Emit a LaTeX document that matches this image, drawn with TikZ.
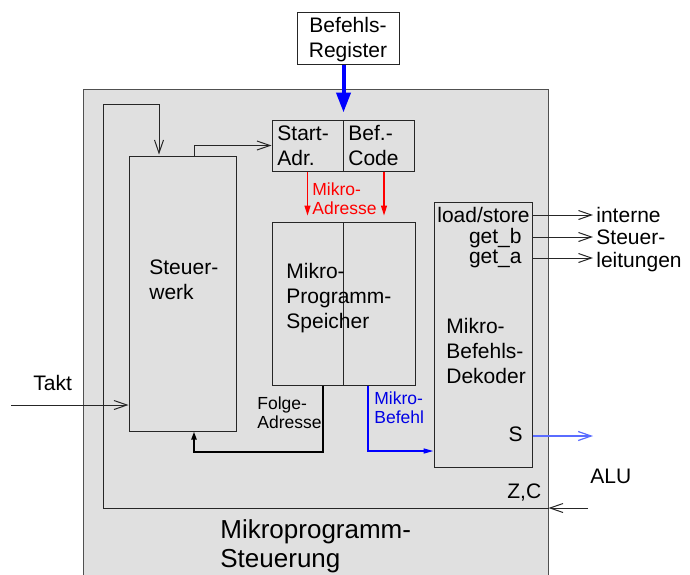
\documentclass[tikz,border=0pt]{standalone}
\usepackage{fontspec}
\setmainfont{Liberation Sans}
\usetikzlibrary{arrows.meta,calc}
\definecolor{bgray}{HTML}{E0E0E0}
\definecolor{edgegray}{HTML}{505050}
\definecolor{sblue}{HTML}{5A6CFF}
\newcommand{\mainf}{\fontsize{10.5}{12.5}\selectfont}
\newcommand{\smallf}{\fontsize{8.75}{9.5}\selectfont}
\newcommand{\bigf}{\fontsize{13}{14.5}\selectfont}
\newcommand{\lns}[1]{\begin{tabular}[t]{@{}l@{}}#1\end{tabular}}
\newcommand{\clns}[1]{\begin{tabular}[t]{@{}c@{}}#1\end{tabular}}
\begin{document}
\begin{tikzpicture}[x=0.5pt,y=-0.5pt,
  box/.style={draw=black!85, fill=bgray, line width=0.5pt, inner sep=0pt, anchor=center},
  txt/.style={inner sep=0pt, anchor=base west, font=\mainf},
  stxt/.style={inner sep=0pt, anchor=base west, font=\smallf},
  wire/.style={line width=0.5pt, draw=black!85},
  openarr/.style={-{Straight Barb[length=6.5pt,width=4.5pt]}},
]
\useasboundingbox (0,0) rectangle (690,574);
% outer box
\node[box, draw=edgegray, minimum width=232.5pt, minimum height=245.5pt] (outer) at (315.5,334.5) {};
% Befehls-Register
\node[box, fill=white, minimum width=51pt, minimum height=26pt] (br) at (348,38) {};
\node[txt, anchor=base] (brtxt) at (348,32) {\clns{Befehls-\\Register}};
% Start-Adr / Bef.-Code
\node[box, minimum width=35.5pt, minimum height=25.5pt] (sa) at (307.5,145.5) {};
\node[box, minimum width=35.5pt, minimum height=25.5pt] (bc) at (378.5,145.5) {};
\node[txt] (satxt) at (277,140) {\lns{Start-\\Adr.}};
\node[txt] (bctxt) at (348,140) {\lns{Bef.-\\Code}};
% Steuerwerk
\node[box, minimum width=53.5pt, minimum height=137.5pt] (sw) at (182.5,293.5) {};
\node[txt] (swtxt) at (149,274) {\lns{Steuer-\\werk}};
% Mikro-Programm-Speicher
\node[box, minimum width=35.5pt, minimum height=81.5pt] (mpl) at (307.5,303.5) {};
\node[box, minimum width=36pt, minimum height=81.5pt] (mpr) at (379,303.5) {};
\node[txt] (mptxt) at (286,278) {\lns{Mikro-\\Programm-\\Speicher}};
% Dekoder
\node[box, minimum width=49pt, minimum height=132.5pt] (dec) at (483,334.5) {};
\node[txt] (dectxt) at (446,333) {\lns{Mikro-\\Befehls-\\Dekoder}};
\node[txt, anchor=base east] (ls) at (530,222) {load/store};
\node[txt, anchor=base east] (gb) at (522,243) {get\_b};
\node[txt, anchor=base east] (ga) at (522,263) {get\_a};
\node[txt, anchor=base east] (stx) at (523,441) {S};
% outside labels
\node[txt, font=\fontsize{10.5}{11.25}\selectfont] (intern) at (596,222) {\lns{interne\\Steuer-\\leitungen}};
\node[txt] (takt) at (33,390) {Takt};
\node[txt] (alu) at (590,483) {ALU};
\node[txt] (zc) at (507,498) {Z,C};
\node[txt, font=\bigf] (title) at (220,538) {\lns{Mikroprogramm-\\Steuerung}};
\node[stxt, text=red] (madr) at (312,195) {\lns{Mikro-\\Adresse}};
\node[stxt] (fadr) at (257,409) {\lns{Folge-\\Adresse}};
\node[stxt, text=blue!90!black] (mbef) at (374,404) {\lns{Mikro-\\Befehl}};
% coordinates
\coordinate (taktin) at (11,405);
\coordinate (zcin) at (588,508);
\coordinate (zcl) at (103,508);
\coordinate (fbtop) at (103,104);
\coordinate (bus) at (0,451);
\coordinate (o1) at (593,215);
\coordinate (o2) at (593,237);
\coordinate (o3) at (593,258);
\coordinate (os) at (593,436);
% Befehlsregister -> Start/Bef
\draw[draw=blue, line width=2pt, -{Triangle[length=10pt,width=7pt]}, shorten >=3.5pt] (sa.north east |- br.south) -- (sa.north east);
% red Mikro-Adresse
\draw[draw=red, line width=0.75pt, -{Triangle[length=5pt,width=3pt]}, shorten >=3pt] (sa.south) -- (mpl.north);
\draw[draw=red, line width=0.75pt, -{Triangle[length=5pt,width=3pt]}, shorten >=3pt] ($(bc.south)+(5.5,0)$) -- ($(mpr.north)+(5,0)$);
% Steuerwerk -> Start-Adr
\draw[wire, openarr] ($(sw.north)+(11.5,0)$) |- (sa.west);
% Z,C feedback loop
\draw[wire, openarr] (zcin) -- (outer.east |- zcin);
\draw[wire, openarr, shorten >=0.5pt] (outer.east |- zcin) -- (zcl) -- (fbtop) -| ($(sw.north)+(-23.5,0)$);
% Takt
\draw[wire, openarr] (taktin) -- (sw.west |- taktin);
% Folge-Adresse
\draw[line width=1pt, -{Triangle[length=4pt,width=2.5pt]}] ($(mpl.south)+(15.5,0)$) |- ($(sw.south)+(11.5,20)$) -- ($(sw.south)+(11.5,0)$);
% Mikro-Befehl
\draw[draw=blue, line width=0.75pt, -{Triangle[length=5pt,width=2.5pt]}] ($(mpr.south)+(-11,0)$) |- (dec.west |- bus);
% outputs
\draw[wire, openarr] (dec.east |- o1) -- (o1);
\draw[wire, openarr] (dec.east |- o2) -- (o2);
\draw[wire, openarr] (dec.east |- o3) -- (o3);
\draw[draw=sblue, line width=0.6pt, openarr] (dec.east |- os) -- (os);
\end{tikzpicture}
\end{document}
